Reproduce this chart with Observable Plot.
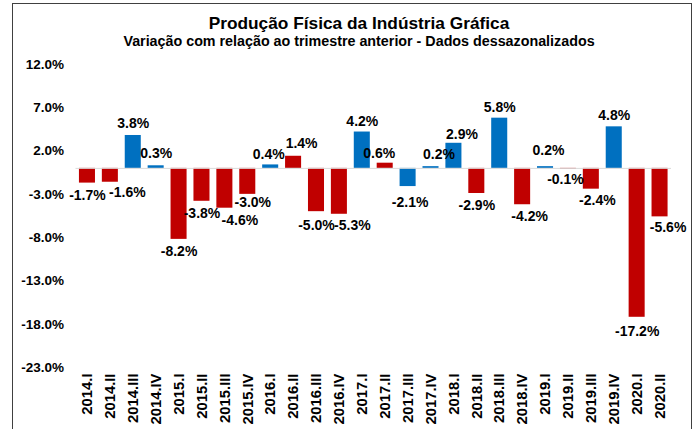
<!DOCTYPE html>
<html>
<head>
<meta charset="utf-8">
<script src="https://cdn.jsdelivr.net/npm/d3@7"></script>
<script src="https://cdn.jsdelivr.net/npm/@observablehq/plot@0.6"></script>
<style>
  html, body { margin: 0; padding: 0; background: #fff; }
  body { width: 697px; height: 429px; overflow: hidden; position: relative;
         font-family: "Liberation Sans", Arial, sans-serif; }
  #frame { position: absolute; left: 12px; top: 3px; width: 680px; height: 500px;
           border: 1.5px solid #404040; box-sizing: border-box; }
  #title { position: absolute; left: 0; width: 718px; top: 16.3px; text-align: center;
           font-size: 17.3px; line-height: 14px; font-weight: bold; color: #000; }
  #subtitle { position: absolute; left: 0; width: 718px; top: 36.4px; text-align: center;
           font-size: 14.3px; line-height: 11px; font-weight: bold; color: #000; }
  #chart { position: absolute; left: 0; top: 0; }
</style>
</head>
<body>
<div id="frame"></div>
<div id="chart"></div>
<div id="title">Produção Física da Indústria Gráfica</div>
<div id="subtitle">Variação com relação ao trimestre anterior - Dados dessazonalizados</div>
<script>
const trimestres = ["2014.I","2014.II","2014.III","2014.IV","2015.I","2015.II","2015.III","2015.IV",
  "2016.I","2016.II","2016.III","2016.IV","2017.I","2017.II","2017.III","2017.IV",
  "2018.I","2018.II","2018.III","2018.IV","2019.I","2019.II","2019.III","2019.IV","2020.I","2020.II"];
const variacao = [-1.7,-1.6,3.8,0.3,-8.2,-3.8,-4.6,-3.0,0.4,1.4,-5.0,-5.3,4.2,0.6,-2.1,0.2,
  2.9,-2.9,5.8,-4.2,0.2,-0.1,-2.4,4.8,-17.2,-5.6];
const grupo = ["vermelho","vermelho","azul","azul","vermelho","vermelho","vermelho","vermelho",
  "azul","vermelho","vermelho","vermelho","azul","vermelho","azul","azul",
  "azul","vermelho","azul","vermelho","azul","vermelho","vermelho","azul","vermelho","vermelho"];
const yTicks = [12, 7, 2, -3, -8, -13, -18, -23];

const dados = trimestres.map((q, i) => ({q, v: variacao[i], g: grupo[i]}));

// label nudges (layout only), [dx, dy]
const ajuste = {
  "2014.II": [17, 10], "2015.III": [15, 12], "2015.IV": [5, 8], "2016.I": [-2, -10.5],
  "2016.II": [8, -13], "2016.IV": [13, 11], "2017.II": [-6, -10], "2017.III": [2, 16],
  "2017.IV": [8, -12], "2018.I": [8, -9], "2018.IV": [7, 12], "2019.I": [3, -16],
  "2019.II": [-3, 10], "2019.III": [6, 11], "2020.II": [8, 11], "2016.III": [0, 14],
  "2020.I": [0, 14], "2018.III": [0, -11], "2019.IV": [0, -11.5], "2017.I": [0, -11]
};
// small leader lines for moved labels (layout only): [quarter, dy start, dy end]
const guias = [["2017.III", 2, 7], ["2019.I", -2, -8]];

const fmt = d => d.toFixed(1) + "%";

const rotulos = dados.map(d => {
  const [dx, dy] = ajuste[d.q] ?? [0, d.v >= 0 ? -12 : 12.5];
  return Plot.text([d], {x: "q", y: "v", text: d => fmt(d.v), dx, dy,
    fontSize: 14, fontWeight: "bold", fill: "#000"});
});

const linhas = guias.map(([q, a, b]) => {
  const d = dados.find(e => e.q === q);
  return Plot.text([d], {x: "q", y: "v", text: () => "", dy: 0,
    render: (index, scales) => {
      const x = scales.x(d.q) + scales.x.bandwidth / 2;
      const y = scales.y(d.v);
      const g = d3.create("svg:line")
        .attr("x1", x).attr("x2", x + 2)
        .attr("y1", y + a).attr("y2", y + b)
        .attr("stroke", "#a6a6a6").attr("stroke-width", 1);
      return g.node();
    }});
});

const chart = Plot.plot({
  width: 697,
  height: 429,
  marginTop: 64,
  marginBottom: 62,
  marginLeft: 75.5,
  marginRight: 26,
  style: {fontFamily: "'Liberation Sans', Arial, sans-serif", background: "transparent", overflow: "visible"},
  x: {domain: trimestres, paddingInner: 0.3, paddingOuter: 0.15, round: false, label: null},
  y: {domain: [-23, 12], label: null},
  color: {domain: ["azul", "vermelho"], range: ["#0070C0", "#C00000"]},
  marks: [
    Plot.axisY({ticks: yTicks, tickSize: 0, tickPadding: 12, tickFormat: fmt,
      fontSize: 13.5, fontWeight: "bold", fill: "#000", label: null}),
    Plot.axisX({tickRotate: -90, tickSize: 0, tickPadding: 6, fontSize: 14.8,
      fontWeight: "bold", fill: "#000", label: null}),
    Plot.barY(dados, {x: "q", y: "v", fill: "g"}),
    Plot.ruleY([0], {stroke: "#d9d9d9", strokeWidth: 1}),
    ...linhas,
    ...rotulos
  ]
});
document.getElementById("chart").appendChild(chart);
</script>
</body>
</html>
